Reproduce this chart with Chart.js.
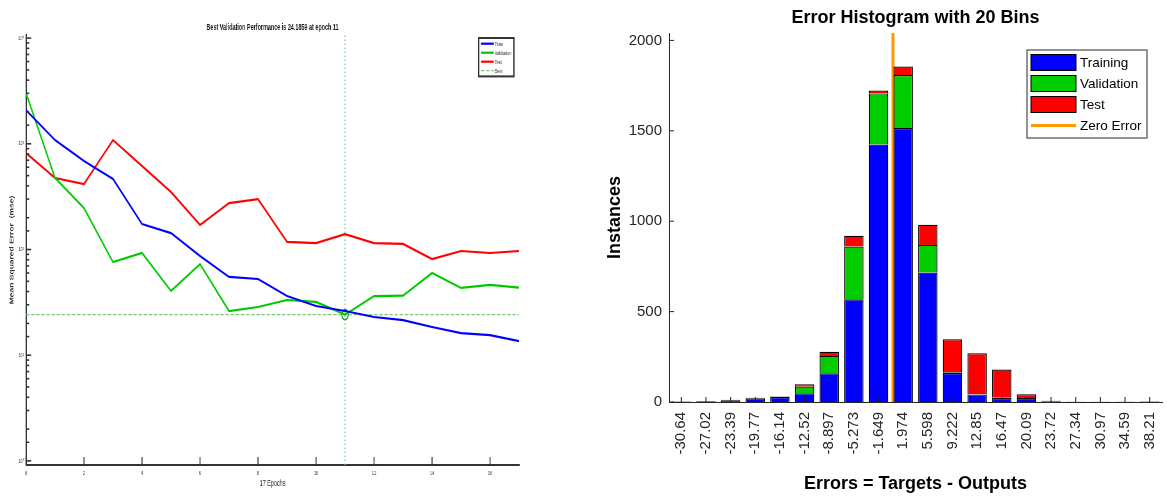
<!DOCTYPE html>
<html>
<head>
<meta charset="utf-8">
<script src="https://cdn.jsdelivr.net/npm/chart.js@4.4.1/dist/chart.umd.min.js"></script>
<style>
  html, body { margin: 0; padding: 0; background: #fff; width: 1167px; height: 497px; overflow: hidden; }
  #perfWrap { position: absolute; left: 0; top: 0; width: 875px; height: 497px;
              transform: scaleX(0.64); transform-origin: 0 0; filter: blur(0.3px); }
  #histWrap { position: absolute; left: 580px; top: 0; width: 587px; height: 497px; }
</style>
</head>
<body>
<div id="perfWrap"><canvas id="perf"></canvas></div>
<div id="histWrap"><canvas id="hist"></canvas></div>
<script>
// ---- training performance (mse per epoch) ----
const epochs     = [0, 1, 2, 3, 4, 5, 6, 7, 8, 9, 10, 11, 12, 13, 14, 15, 16, 17];
const trainPerf  = [2085, 1085, 687, 465, 174, 143, 87, 55, 52.6, 36.3, 29.2, 26.2, 23.0, 21.5, 18.5, 16.2, 15.5, 13.6];
const valPerf    = [3020, 475, 247, 76, 92.7, 40.5, 72.9, 26.2, 28.6, 33.3, 31.9, 24.1859, 36.3, 36.6, 60, 43.3, 46.2, 43.6];
const testPerf   = [817, 475, 416, 1085, 617, 350, 171, 275, 300, 118, 115, 140, 115, 113, 81.3, 96.8, 92.7, 96.8];
const bestEpoch  = 11;
const bestPerf   = 24.1859;
const perfMin    = 0.915;
const perfMax    = 10700;

// ---- error histogram (20 bins) ----
const binCenters  = [-30.64, -27.02, -23.39, -19.77, -16.14, -12.52, -8.897, -5.273, -1.649, 1.974,
                     5.598, 9.222, 12.85, 16.47, 20.09, 23.72, 27.34, 30.97, 34.59, 38.21];
const trainCounts = [3, 4, 9, 21, 27, 48, 159, 568, 1424, 1515, 716, 160, 42, 22, 22, 4, 2, 2, 2, 3];
const valCounts   = [0, 1, 2, 2, 3, 37, 96, 292, 283, 293, 153, 4, 1, 1, 0, 1, 0, 0, 0, 0];
const testCounts  = [1, 1, 2, 1, 1, 13, 23, 59, 16, 48, 111, 183, 227, 157, 21, 2, 1, 1, 1, 1];
const countTicks  = [0, 500, 1000, 1500, 2000];
const countMax    = 2041;

const FONT = "'Liberation Sans', Arial, Helvetica, sans-serif";
Chart.defaults.font.family = FONT;

const supDigits = ['⁰', '¹', '²', '³', '⁴', '⁵'];
const isPow10 = v => { const e = Math.log10(v); return Math.abs(e - Math.round(e)) < 1e-6; };

// inward-pointing tick marks, placed through each scale
const innerTicks = {
  id: 'innerTicks',
  afterDatasetsDraw(chart, args, o) {
    const ctx = chart.ctx;
    ctx.save();
    ctx.strokeStyle = o.color;
    ctx.lineWidth = o.width;
    Object.values(chart.scales).forEach(s => {
      if (s.options.display === false) return;
      s.ticks.forEach((t, i) => {
        const p = s.getPixelForTick(i);
        const len = (s.type === 'logarithmic' && !isPow10(t.value)) ? o.minorLen : o.len;
        ctx.beginPath();
        if (s.isHorizontal()) { ctx.moveTo(p, s.top); ctx.lineTo(p, s.top - len); }
        else { ctx.moveTo(s.right, p); ctx.lineTo(s.right + len, p); }
        ctx.stroke();
      });
    });
    ctx.restore();
  }
};

// framed legend in the upper right corner of the plot area
const boxLegend = {
  id: 'boxLegend',
  afterDraw(chart, args, o) {
    const ctx = chart.ctx, a = chart.chartArea;
    const items = chart.data.datasets.filter(d => d.label);
    const left = a.right - o.right - o.width;
    const top = a.top + o.top;
    const height = o.first * 2 + o.step * (items.length - 1);
    ctx.save();
    ctx.fillStyle = '#fff';
    ctx.fillRect(left, top, o.width, height);
    ctx.strokeStyle = o.frame;
    ctx.lineWidth = o.frameWidth;
    ctx.strokeRect(left, top, o.width, height);
    ctx.font = o.fontSize + 'px ' + FONT;
    ctx.textBaseline = 'middle';
    ctx.textAlign = 'left';
    items.forEach((d, i) => {
      const y = top + o.first + i * o.step;
      const x0 = left + o.swatchX;
      const kind = d.type || chart.config.type;
      if (kind === 'line') {
        ctx.save();
        ctx.strokeStyle = d.borderColor;
        ctx.lineWidth = d.borderWidth;
        ctx.setLineDash(d.borderDash || []);
        ctx.beginPath(); ctx.moveTo(x0, y); ctx.lineTo(x0 + o.swatchW, y); ctx.stroke();
        ctx.restore();
      } else {
        ctx.fillStyle = d.backgroundColor;
        ctx.fillRect(x0, y - o.swatchH / 2, o.swatchW, o.swatchH);
        ctx.strokeStyle = '#000';
        ctx.lineWidth = 1;
        ctx.strokeRect(x0, y - o.swatchH / 2, o.swatchW, o.swatchH);
      }
      ctx.fillStyle = o.color;
      ctx.fillText(d.label, left + o.textX, y + 0.5);
    });
    ctx.restore();
  }
};

// ---------------- performance plot ----------------
const toPoints = vals => epochs.map((e, i) => ({ x: e, y: vals[i] }));
const bestGreen = '#74c874';

new Chart(document.getElementById('perf'), {
  type: 'line',
  data: {
    datasets: [
      { label: 'Train', data: toPoints(trainPerf), borderColor: '#0000ff', borderWidth: 2.2, pointRadius: 0 },
      { label: 'Validation', data: toPoints(valPerf), borderColor: '#00c800', borderWidth: 2.2, pointRadius: 0 },
      { label: 'Test', data: toPoints(testPerf), borderColor: '#ff0000', borderWidth: 2.2, pointRadius: 0 },
      { label: 'Best', data: [{ x: epochs[0], y: bestPerf }, { x: epochs[epochs.length - 1], y: bestPerf }],
        borderColor: bestGreen, borderWidth: 1.3, borderDash: [5, 3], pointRadius: 0 },
      { data: [{ x: bestEpoch, y: perfMin }, { x: bestEpoch, y: perfMax }],
        borderColor: bestGreen, borderWidth: 1.6, borderDash: [1.5, 2.5], pointRadius: 0 },
      { data: [{ x: bestEpoch, y: bestPerf }], showLine: false, pointRadius: 5,
        pointBorderColor: '#0a8a0a', pointBackgroundColor: 'rgba(0,0,0,0)', pointBorderWidth: 1.6 }
    ]
  },
  options: {
    responsive: true, maintainAspectRatio: false, animation: false, devicePixelRatio: 1,
    layout: { padding: { left: 0, right: 64, top: 0, bottom: 0 } },
    elements: { line: { tension: 0 } },
    plugins: {
      legend: { display: false },
      tooltip: { enabled: false },
      title: {
        display: true, fullSize: false,
        text: 'Best Validation Performance is ' + bestPerf + ' at epoch ' + bestEpoch,
        font: { size: 8.5, weight: 'bold' }, color: '#1a1a1a',
        padding: { top: 22.9, bottom: 1.9 }
      },
      boxLegend: { right: 8, top: 3, width: 55, first: 5.7, step: 9, swatchX: 3.6, swatchW: 20,
                   textX: 25, fontSize: 6, color: '#333', frame: '#333', frameWidth: 2 },
      innerTicks: { len: 8, minorLen: 5, color: '#333', width: 1.6 }
    },
    scales: {
      x: {
        type: 'linear', min: epochs[0], max: epochs[epochs.length - 1],
        ticks: { stepSize: 2, font: { size: 6 }, color: '#333', padding: 5, maxRotation: 0 },
        afterBuildTicks: s => { s.ticks = s.ticks.filter(t => t.value % 2 === 0); },
        grid: { display: false, drawTicks: false },
        border: { color: '#333', width: 2 },
        title: { display: true, text: (epochs.length - 1) + ' Epochs', font: { size: 8.5 }, color: '#222',
                 padding: { top: 0, bottom: 7.9 } },
        afterFit: s => { s.height = 32; }
      },
      y: {
        type: 'logarithmic', min: perfMin, max: perfMax,
        afterBuildTicks: s => { s.ticks = s.ticks.filter(t => t.value >= 1 - 1e-9 && t.value <= 10000 + 1e-6); },
        ticks: {
          font: { size: 6 }, color: '#444', padding: 3, autoSkip: false,
          callback: v => isPow10(v) ? '10' + supDigits[Math.round(Math.log10(v))] : ''
        },
        grid: { display: false, drawTicks: false },
        border: { color: '#333', width: 2 },
        title: { display: true, text: 'Mean Squared Error  (mse)', font: { size: 8.5, weight: 'bold' }, color: '#333',
                 padding: { top: 13.6, bottom: 0 } },
        afterFit: s => { s.width = 40.6; }
      }
    }
  },
  plugins: [innerTicks, boxLegend]
});

// ---------------- error histogram ----------------
const binWidth = (binCenters[binCenters.length - 1] - binCenters[0]) / (binCenters.length - 1);
const binLo = binCenters[0] - binWidth / 2;
const binHi = binCenters[binCenters.length - 1] + binWidth / 2;
const barStyle = { borderColor: '#000', borderWidth: 1.2, grouped: false, barPercentage: 0.79, categoryPercentage: 1 };

new Chart(document.getElementById('hist'), {
  type: 'bar',
  data: {
    labels: binCenters.map(String),
    datasets: [
      { label: 'Training', data: trainCounts, backgroundColor: '#0000ff', ...barStyle },
      { label: 'Validation', data: valCounts, backgroundColor: '#00cc00', ...barStyle },
      { label: 'Test', data: testCounts, backgroundColor: '#ff0000', ...barStyle },
      { type: 'line', label: 'Zero Error', xAxisID: 'xz',
        data: [{ x: 0, y: 0 }, { x: 0, y: countMax }],
        borderColor: '#ff9900', borderWidth: 3, pointRadius: 0 }
    ]
  },
  options: {
    responsive: true, maintainAspectRatio: false, animation: false, devicePixelRatio: 1,
    layout: { padding: { left: 0, right: 5, top: 0, bottom: 0 } },
    plugins: {
      legend: { display: false },
      tooltip: { enabled: false },
      title: {
        display: true, fullSize: false, text: 'Error Histogram with ' + binCenters.length + ' Bins',
        font: { size: 18, weight: 'bold' }, color: '#000',
        padding: { top: 7.2, bottom: 4.2 }
      },
      boxLegend: { right: 15, top: 17, width: 120, first: 12.5, step: 21, swatchX: 4, swatchW: 45, swatchH: 16,
                   textX: 53, fontSize: 13.5, color: '#000', frame: '#5a5a5a', frameWidth: 1.3 },
      innerTicks: { len: 5, minorLen: 5, color: '#262626', width: 1 }
    },
    scales: {
      x: {
        stacked: true,
        ticks: { minRotation: 90, maxRotation: 90, autoSkip: false, font: { size: 15 }, color: '#262626', padding: 10 },
        grid: { display: false, drawTicks: false },
        border: { color: '#262626', width: 1 },
        title: { display: true, text: 'Errors = Targets - Outputs', font: { size: 18, weight: 'bold' }, color: '#000',
                 padding: { top: 0, bottom: 2.2 } },
        afterFit: s => { s.height = 95; s.paddingLeft = 0; s.paddingRight = 0; }
      },
      xz: { type: 'linear', display: false, min: binLo, max: binHi },
      y: {
        stacked: true, min: 0, max: countMax,
        ticks: { font: { size: 15 }, color: '#262626', padding: 7, callback: v => String(v) },
        afterBuildTicks: s => { s.ticks = countTicks.map(v => ({ value: v })); },
        grid: { display: false, drawTicks: false },
        border: { color: '#262626', width: 1 },
        title: { display: true, text: 'Instances', font: { size: 18, weight: 'bold' }, color: '#000',
                 padding: { top: 24.2, bottom: 0 } },
        afterFit: s => { s.width = 89; }
      }
    }
  },
  plugins: [innerTicks, boxLegend]
});
</script>
</body>
</html>
